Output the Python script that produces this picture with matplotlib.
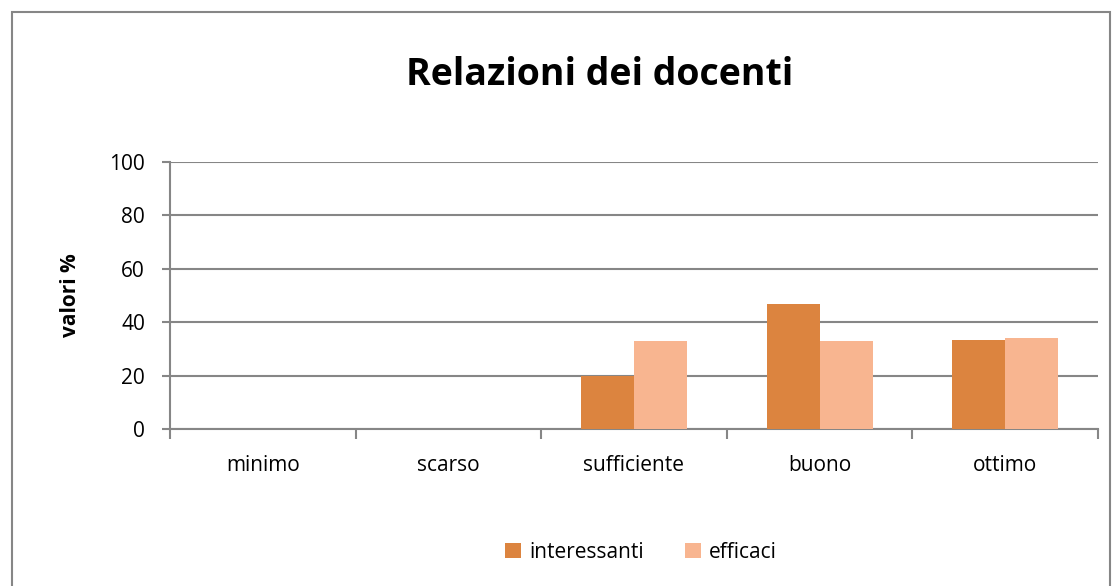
import matplotlib.pyplot as plt
import numpy as np
from matplotlib.patches import Rectangle

# data
categorie = ["minimo", "scarso", "sufficiente", "buono", "ottimo"]
interessanti = [0, 0, 20, 46.7, 33.3]
efficaci = [0, 0, 33, 33, 34]
yticks = [0, 20, 40, 60, 80, 100]

col_int = "#DC843F"
col_eff = "#F8B590"
grigio = "#868686"

plt.rcParams["font.family"] = ["Open Sans", "DejaVu Sans"]

W, H = 1116, 586
fig = plt.figure(figsize=(W / 100, H / 100), dpi=100)
ax = fig.add_axes([170 / W, 1 - 429 / H, (1098 - 170) / W, (429 - 162) / H])

# outer frame
fig.patches.append(Rectangle((12 / W, -0.05), (1110 - 12) / W, 1 - 12 / H + 0.05,
                             transform=fig.transFigure, fill=False,
                             edgecolor=grigio, linewidth=1.5))

x = np.arange(len(categorie))
bw = 1 / 3.5
ax.bar(x - bw / 2, interessanti, bw, color=col_int, label="interessanti", zorder=3)
ax.bar(x + bw / 2, efficaci, bw, color=col_eff, label="efficaci", zorder=3)

ax.set_xlim(-0.5, len(categorie) - 0.5)
ax.set_ylim(0, 100)
ax.set_yticks(yticks)
ax.yaxis.grid(True, color=grigio, linewidth=1.5, zorder=0)
ax.set_axisbelow(True)

ax.set_xticks(np.arange(-0.5, len(categorie), 1))
ax.set_xticklabels([])
ax.set_xticks(x, minor=True)
ax.set_xticklabels(categorie, minor=True, fontsize=15)
ax.tick_params(axis="x", which="minor", length=0, pad=19)
ax.tick_params(axis="x", which="major", length=7, width=1.5, color=grigio, direction="out")
ax.tick_params(axis="y", length=6, width=1.5, color=grigio, direction="out", labelsize=15, pad=12)

for s in ["top", "right"]:
    ax.spines[s].set_visible(False)
for s in ["left", "bottom"]:
    ax.spines[s].set_color(grigio)
    ax.spines[s].set_linewidth(1.5)

ax.set_ylabel("valori %", fontsize=15, fontweight="bold", labelpad=20)
fig.text(600 / W, 1 - 75 / H, "Relazioni dei docenti", ha="center", va="center",
         fontsize=27, fontweight="bold")

fig.legend(loc="center", bbox_to_anchor=(641 / W, 1 - 552 / H), ncol=2, frameon=False,
           fontsize=15, handlelength=0.75, handleheight=0.75, columnspacing=2.0,
           handletextpad=0.4)

fig.savefig("out.png", dpi=100)
